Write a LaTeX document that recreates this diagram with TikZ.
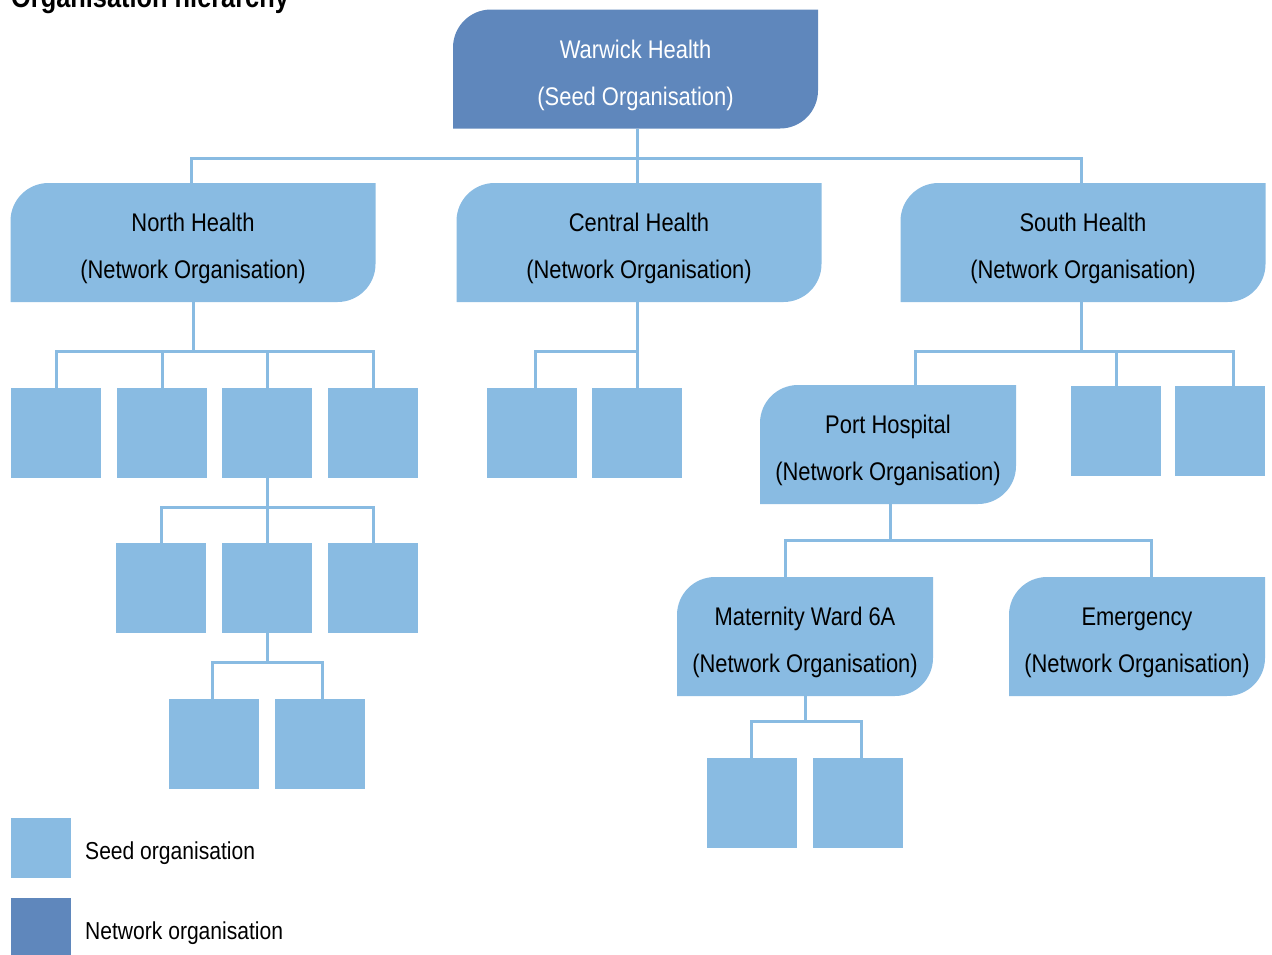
\documentclass[tikz,border=0pt]{standalone}
\usepackage{fontspec}
\setmainfont{Liberation Sans}[FakeStretch=0.86]
\usetikzlibrary{backgrounds}
\definecolor{lightorg}{RGB}{137,187,226}
\definecolor{darkorg}{RGB}{95,135,188}
% the org nodes are drawn 6pt lower than their boxes, so that their text sits as in the reference
\newcommand\orgfill[2]{\fill[#2] ([yshift=6pt]#1.south west) -- ([yshift=-32pt]#1.north west) arc[start angle=180,end angle=90,radius=38pt] -- ([yshift=6pt]#1.north east) -- ([yshift=44pt]#1.south east) arc[start angle=0,end angle=-90,radius=38pt] -- cycle;}
\begin{document}
\begin{tikzpicture}[x=1pt,y=1pt,
  conn/.style={draw=lightorg,line width=3pt},
  sq/.style={fill=lightorg,minimum width=90pt,minimum height=90pt,inner sep=0pt,outer sep=0pt},
  org/.style={minimum width=365pt,minimum height=119pt,inner sep=0pt,outer sep=0pt,align=center,font=\fontsize{25.5}{47}\selectfont,yshift=-6pt},
  orgs/.style={org,minimum width=256pt},
  lbl/.style={anchor=west,inner sep=0pt,font=\fontsize{24.5}{30}\selectfont},
  lgd/.style={minimum width=60pt,minimum height=60pt,inner sep=0pt,outer sep=0pt}
  ]
\useasboundingbox (0,0) rectangle (1272,-954);
\node[anchor=base west,inner sep=0pt,font=\bfseries\fontsize{29.5}{30}\selectfont] (title) at (11,-7) {Organisation hierarchy};

% main organisations
\node[org,text=white] (war) at (635.5,-69) {Warwick Health\\(Seed Organisation)};
\node[org] (north) at (193,-242.5) {North Health\\(Network Organisation)};
\node[org] (central) at (639,-242.5) {Central Health\\(Network Organisation)};
\node[org] (south) at (1083,-242.5) {South Health\\(Network Organisation)};
\node[orgs] (port) at (888,-444.5) {Port Hospital\\(Network Organisation)};
\node[orgs] (mat) at (805,-636.5) {Maternity Ward 6A\\(Network Organisation)};
\node[orgs] (eme) at (1137,-636.5) {Emergency\\(Network Organisation)};

\begin{pgfonlayer}{background}
\orgfill{war}{darkorg}
\orgfill{north}{lightorg}
\orgfill{central}{lightorg}
\orgfill{south}{lightorg}
\orgfill{port}{lightorg}
\orgfill{mat}{lightorg}
\orgfill{eme}{lightorg}
\end{pgfonlayer}

% square units
\node[sq] (n1) at (56,-433) {};
\node[sq] (n2) at (162,-433) {};
\node[sq] (n3) at (267,-433) {};
\node[sq] (n4) at (373,-433) {};
\node[sq] (m1) at (161,-588) {};
\node[sq] (m2) at (267,-588) {};
\node[sq] (m3) at (373,-588) {};
\node[sq] (k1) at (214,-744) {};
\node[sq] (k2) at (320,-744) {};
\node[sq] (c1) at (532,-433) {};
\node[sq] (c2) at (637,-433) {};
\node[sq] (s1) at (1116,-430.5) {};
\node[sq] (s2) at (1220,-430.5) {};
\node[sq] (w1) at (752,-803) {};
\node[sq] (w2) at (858,-803) {};

% connectors
\foreach \c in {north,central,south}
  \draw[conn] ([xshift=1.5pt,yshift=6pt]war.south) -- ++(0,-30) -| ([xshift=-2pt]\c.north);
\foreach \c in {n1,n2,n3,n4}
  \draw[conn] ([yshift=6pt]north.south) -- ++(0,-49) -| (\c.north);
\foreach \c in {m1,m2,m3}
  \draw[conn] (n3.south) -- ++(0,-29) -| (\c.north);
\draw[conn] (m2.south) -- ++(0,-29) -| ([xshift=-2pt]k1.north);
\draw[conn] (m2.south) -- ++(0,-29) -| ([xshift=2pt]k2.north);
\draw[conn] ([xshift=-2pt,yshift=6pt]central.south) -- ++(0,-49) -| ([xshift=3pt]c1.north);
\draw[conn] ([xshift=-2pt,yshift=6pt]central.south) -- ++(0,-49) -| (c2.north);
\draw[conn] ([xshift=-2pt,yshift=6pt]south.south) -- ++(0,-49) -| ([xshift=27pt]port.north);
\draw[conn] ([xshift=-2pt,yshift=6pt]south.south) -- ++(0,-49) -| (s1.north);
\draw[conn] ([xshift=-2pt,yshift=6pt]south.south) -- ++(0,-49) -| ([xshift=13pt]s2.north);
\draw[conn] ([xshift=2pt,yshift=6pt]port.south) -- ++(0,-36) -| ([xshift=-20pt]mat.north);
\draw[conn] ([xshift=2pt,yshift=6pt]port.south) -- ++(0,-36) -| ([xshift=14pt]eme.north);
\draw[conn] ([yshift=6pt]mat.south) -- ++(0,-25) -| ([xshift=-1pt]w1.north);
\draw[conn] ([yshift=6pt]mat.south) -- ++(0,-25) -| ([xshift=3pt]w2.north);

% legend
\node[lgd,fill=lightorg] (lseed) at (41,-848) {};
\node[lbl] (tseed) at (85,-853) {Seed organisation};
\node[lgd,fill=darkorg] (lnet) at (41,-928) {};
\node[lbl] (tnet) at (85,-933) {Network organisation};
\end{tikzpicture}
\end{document}
